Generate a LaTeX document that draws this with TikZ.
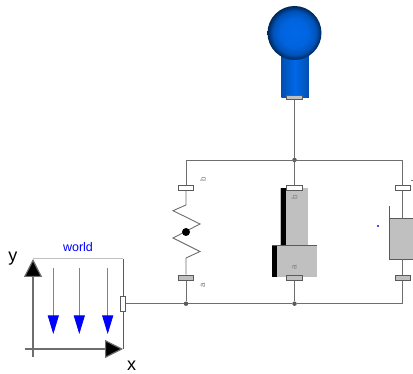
\documentclass[tikz,border=0pt]{standalone}
\usepackage{fontspec}
\setmainfont{Liberation Sans}
\usetikzlibrary{arrows.meta,positioning}
\definecolor{cWire}{HTML}{6E6E6E}
\definecolor{cBody}{HTML}{C0C0C0}
\definecolor{cEdge}{HTML}{5A5A5A}
\definecolor{cLbl}{HTML}{808080}
\definecolor{cBlue}{HTML}{0000FF}
\definecolor{cMass}{HTML}{0068E8}
\definecolor{cDark}{HTML}{00306E}
\pgfdeclareradialshading{ballshade}{\pgfpointorigin}{%
  color(0bp)=(cMass);color(13bp)=(cMass!92!cDark);color(20bp)=(cMass!62!cDark);
  color(25bp)=(cDark!80!black);color(50bp)=(cDark!80!black)}
\tikzset{
  wire/.style  ={draw=cWire,line width=0.9pt},
  pwht/.style  ={rectangle,draw=cEdge,fill=white,line width=0.7pt,inner sep=0pt,
                 minimum width=15.5pt,minimum height=5.5pt},
  pgry/.style  ={pwht,fill=cBody},
  body/.style  ={rectangle,draw=none,fill=cBody,inner sep=0pt},
  bar/.style   ={rectangle,fill=black,inner sep=0pt},
  jn/.style    ={circle,fill=cEdge,inner sep=0pt,minimum size=4.5pt},
  tag/.style   ={font=\fontsize{8}{8}\selectfont,text=cLbl,inner sep=0pt,rotate=90},
  ax/.style    ={draw=cWire,line width=1.2pt},
  axtip/.style ={-{Triangle[length=18pt,width=18pt,fill=black]}},
  grav/.style  ={draw=cBlue!55,line width=0.8pt,
                 -{Triangle[length=18.5pt,width=11pt,fill=cBlue,color=cBlue]}},
  txt/.style   ={font=\fontsize{18}{18}\selectfont,inner sep=0pt},
}
\begin{document}
\begin{tikzpicture}[x=1pt,y=-1pt]
\useasboundingbox (0,0) rectangle (413,374);
% mass
\node[rectangle,minimum width=27.5pt,minimum height=46pt,inner sep=0pt,
      left color=cDark!45!cMass,right color=cDark!45!cMass,middle color=cMass] (cyl) at (295,74.5) {};
\node[circle,minimum size=54pt,inner sep=0pt,shading=ballshade] (ball) at (294.5,33) {};
\node[pgry,minimum height=4.5pt] (pm) at (294.5,97.3) {};
% spring
\node[pwht] (sb) at (186,188) {};
\node[pgry,below=83.5pt of sb] (sa) {};
\coordinate (s1) at (186,205);
\coordinate (s2) at (186,258);
\node[tag] (tsb) at (203,179) {b};
\node[tag] (tsa) at (203,285) {a};
% damper
\node[body,minimum width=27.5pt,minimum height=58pt,anchor=north east] (du) at (308,187.5) {};
\node[bar,minimum width=5.5pt,minimum height=58pt,anchor=north west] (dub) at (280.7,187.5) {};
\node[body,minimum width=45pt,minimum height=32pt,anchor=north east] (dl) at (317,245) {};
\node[bar,minimum width=5pt,minimum height=32pt,anchor=north west] (dlb) at (272,245) {};
\draw[draw=cEdge,line width=0.7pt] (dl.north west) -- (dl.north east);
\node[pwht] (db) at (294.5,188) {};
\node[pgry,below=83.5pt of db] (da) {};
\node[tag] (tdb) at (294.5,197) {b};
\node[tag] (tda) at (294.5,267) {a};
% right element
\node[body,draw=cEdge,line width=0.7pt,minimum width=40pt,minimum height=40.5pt,anchor=north west] (eb) at (389.3,218.3) {};
\coordinate (et) at (389.3,206);
\draw[draw=cEdge,line width=0.7pt] (et) -- (eb.north west);
\node[pwht] (rb) at (402.7,188) {};
\node[pgry,below=83.5pt of rb] (ra) {};
\node[rectangle,fill=cLbl,inner sep=0pt,minimum size=1.5pt] (rs) at (412,180.5) {};
\node[rectangle,fill=cBlue!70,inner sep=0pt,minimum size=2pt] (ed) at (377.5,226) {};
% rails
\coordinate (rt) at (186,160);
\coordinate (rr) at (402.7,160);
\coordinate (br) at (402.7,303.7);
\node[jn] (jt) at (294.5,160) {};
\node[jn] (jl) at (186,303.7) {};
\node[jn] (jm) at (294.5,303.7) {};
\node[pwht,minimum width=5.5pt,minimum height=14.5pt] (pw) at (123,303.7) {};
\draw[wire] (pm) -- (jt);
\draw[wire] (sb) |- (rt) -- (rr) -- (rb);
\draw[wire] (jt) -- (db);
\draw[wire] (sb) -- (s1) -- (173,210.7) -- (200,224) -- (173,238) -- (200,251.5) -- (s2) -- (sa);
\node[circle,fill=black,inner sep=0pt,minimum size=8pt] (sd) at (186,232) {};
\draw[wire] (sa) -- (jl);
\draw[wire] (da) -- (jm);
\draw[wire] (rb) -- (402.7,218.3);
\draw[wire] (402.7,258.8) -- (ra);
\draw[wire] (ra) -- (br) -- (jm) -- (jl) -- (pw);
% world
\coordinate (wtl) at (33,259);
\coordinate (wtr) at (123,259);
\coordinate (wbr) at (123,349);
\draw[draw=cBody,line width=1pt] (wtl) -- (wtr);
\draw[draw=cEdge,line width=0.8pt] (wtr) -- (pw);
\draw[draw=cEdge,line width=0.8pt] (pw) -- (wbr);
\coordinate (ya) at (33,357);
\coordinate (xa) at (24.5,349);
\draw[ax,axtip] (ya) -- (wtl);
\draw[ax,axtip] (xa) -- (wbr);
\foreach \gx/\gn in {53.3/ga,79.3/gb,107.7/gc}{
  \coordinate (\gn s) at (\gx,268);
  \coordinate (\gn e) at (\gx,334);
  \draw[grav] (\gn s) -- (\gn e);
}
\node[font=\fontsize{12.5}{12.5}\selectfont,text=cBlue,inner sep=0pt] (wn) at (78,247) {world};
\node[txt] (ty) at (13,259) {y};
\node[txt] (tx) at (131.5,366) {x};
\end{tikzpicture}
\end{document}
